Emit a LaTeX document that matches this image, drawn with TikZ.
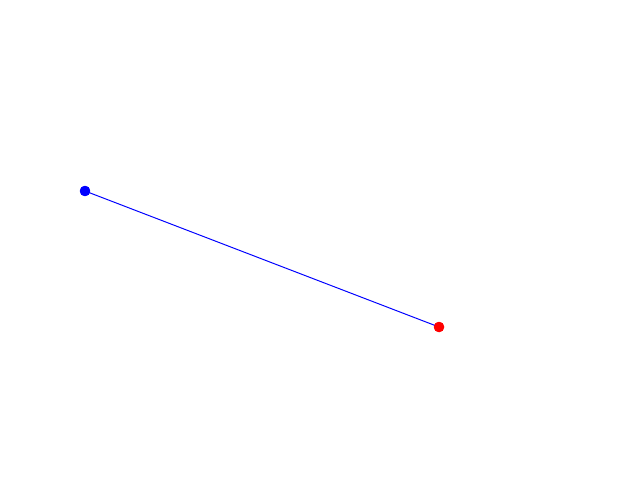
\documentclass[tikz,border=0pt]{standalone}
\usepackage{tikz}
\tikzset{
  enddot/.style={circle,inner sep=0pt,minimum size=0.26cm},
  linkline/.style={line width=0.7pt,draw=blue},
}
\begin{document}
\begin{tikzpicture}
  \useasboundingbox[fill=white] (0,0) rectangle (16,12);
  \node[enddot,fill=blue] (start) at (2.125,7.225) {};
  \node[enddot,fill=red] (finish) at (10.975,3.825) {};
  \draw[linkline] (start.center) -- (finish.center);
  \node[enddot,fill=blue] at (start.center) {};
  \node[enddot,fill=red] at (finish.center) {};
\end{tikzpicture}
\end{document}
